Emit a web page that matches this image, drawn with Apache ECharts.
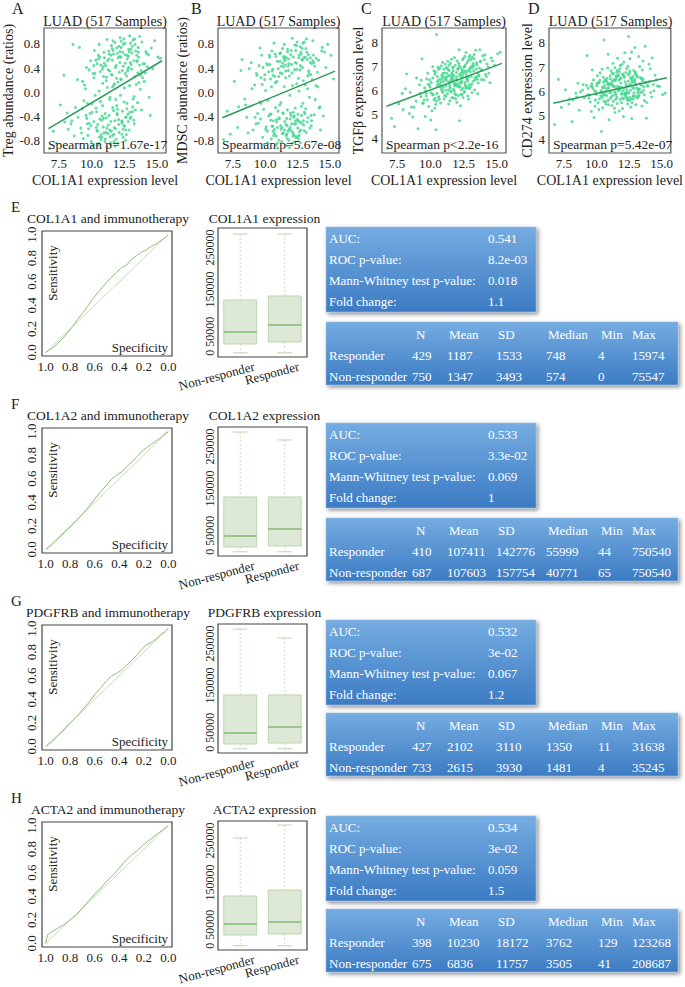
<!DOCTYPE html>
<html>
<head>
<meta charset="utf-8">
<script src="https://cdn.jsdelivr.net/npm/echarts@6/dist/echarts.min.js"></script>
<style>
  html, body { margin: 0; padding: 0; background: #fff; }
  #chart { width: 685px; height: 987px; }
</style>
</head>
<body>
<div id="chart"></div>
<script>
const FONT = 'Liberation Serif, Times New Roman, serif';

// --- panels A-D: the same LUAD samples, a subset ---
const col1a1 = [
  11.23, 12.84, 10.41, 13.07, 9.72, 11.93, 12.28, 10.86, 13.61, 11.47,
  12.13, 9.88, 11.02, 12.57, 13.94, 10.19, 11.74, 12.91, 10.63, 11.31,
  8.42, 12.36, 13.33, 10.94, 11.82, 9.53, 12.69, 14.22, 10.07, 11.38,
  12.04, 13.52, 10.71, 9.18, 11.63, 12.47, 13.01, 10.34, 11.12, 14.58,
  7.08, 12.21, 10.52, 11.87, 13.24, 9.81, 12.77, 11.29, 10.03, 13.68,
  11.54, 12.63, 8.93, 10.78, 12.09, 13.42, 10.97, 9.64, 12.88, 14.03,
  10.38, 11.69, 13.14, 12.32, 9.07, 11.18, 10.59, 12.73, 13.79, 15.08,
  6.79, 11.78, 12.43, 10.22, 12.98, 11.41, 9.37, 11.99, 14.41, 10.89,
  11.58, 12.52, 8.13, 13.27, 10.68, 11.09, 12.17, 9.92, 13.57, 11.91,
  10.12, 12.79, 11.34, 7.62, 13.48, 12.61, 10.47, 11.76, 14.83, 12.07,
  9.29, 10.99, 13.18, 12.39, 10.83, 8.68, 11.51, 12.94, 13.86, 10.28,
  12.27, 11.62, 9.77, 13.03, 10.58, 12.02, 14.12, 11.21, 7.88, 12.71,
  10.92, 13.38, 11.81, 8.97, 12.19, 10.43, 15.27, 11.42, 12.53, 13.73,
  8.58, 11.13, 12.82, 9.98, 13.09, 11.72, 9.61, 12.42, 14.49, 10.73,
  11.88, 12.59, 7.31, 13.31, 10.18, 11.49, 12.11, 9.42, 13.83, 11.04,
  12.92, 10.49, 11.27, 8.21, 13.63, 12.34, 10.81, 11.59, 14.27, 9.68,
  11.36, 12.48, 10.27, 13.22, 11.64, 12.97, 10.73, 11.85, 12.18, 9.84,
  12.71, 11.08, 13.45, 10.54, 11.97, 12.26, 9.47, 12.88, 11.33, 13.76,
  10.91, 12.55, 11.71, 8.77, 12.36, 13.13, 10.62, 11.45, 14.07, 12.03,
  11.17, 12.64, 10.33, 13.58, 11.92, 9.23, 12.42, 11.56, 10.84, 13.29,
  12.81, 11.42, 9.96, 12.15, 13.67, 10.45, 11.79, 12.49, 14.36, 11.06,
  10.17, 12.33, 11.61, 13.02, 9.58, 12.74, 11.25, 10.66, 12.96, 13.49,
  11.73, 12.24, 8.49, 10.95, 13.36, 11.52, 12.58, 10.36, 11.95, 14.68,
  12.67, 11.14, 13.17, 9.69, 12.08, 10.77, 11.66, 12.86, 13.91, 10.53,
  11.39, 12.44, 10.04, 13.26, 11.83, 9.32, 12.31, 11.19, 14.16, 12.76,
  10.61, 11.98, 12.62, 13.54, 10.88, 11.48, 7.95, 12.23, 13.11, 11.68
];
const tregRatio = [
  0.52, 0.71, -0.63, 0.38, -0.71, -0.22, 0.84, 0.15, 0.58, -0.48,
  0.33, -0.35, -0.81, 0.62, 0.47, 0.24, -0.58, 0.11, -0.44, 0.68,
  -0.52, -0.31, 0.79, -0.67, 0.41, 0.06, 0.27, 0.64, -0.88, -0.12,
  0.57, -0.17, 0.45, -0.59, -0.71, 0.88, -0.41, -0.26, 0.19, 0.73,
  -0.64, -0.05, 0.61, -0.77, 0.52, 0.37, -0.36, -0.54, -0.19, 0.92,
  0.29, -0.62, 0.21, -0.74, 0.76, 0.13, 0.48, -0.43, 0.67, 0.18,
  -0.32, 0.63, -0.24, -0.69, 0.74, -0.91, 0.02, 0.55, 0.36, 0.58,
  -0.93, -0.47, 0.43, 0.69, 0.81, 0.35, -0.76, -0.28, -0.08, -0.57,
  0.72, 0.07, -0.34, -0.52, -0.15, -0.66, 0.49, 0.52, 0.74, 0.23,
  0.31, 0.39, -0.38, -0.21, 0.51, -0.79, -0.53, 0.14, 0.85, -0.45,
  -0.27, 0.57, -0.11, 0.66, 0.38, -0.72, -0.64, -0.33, 0.83, -0.05,
  0.21, -0.25, -0.60, 0.46, 0.79, -0.84, 0.32, 0.08, 0.28, -0.18,
  0.26, 0.68, -0.89, -0.41, 0.90, 0.47, 0.56, -0.73, -0.56, 0.05,
  0.79, -0.42, 0.59, -0.81, 0.65, 0.12, 0.41, -0.61, -0.38, -0.70,
  0.44, 0.31, -0.84, 0.26, -0.48, 0.61, -0.66, -0.14, -0.29, -0.35,
  0.93, -0.87, 0.37, -0.61, 0.16, -0.47, -0.39, 0.53, 0.42, -0.52,
  0.63, -0.55, 0.31, -0.46, 0.85, 0.49, -0.78, -0.12, 0.67, -0.51,
  -0.27, 0.44, 0.61, -0.84, -0.37, 0.74, 0.12, -0.62, 0.55, 0.28,
  -0.43, 0.81, -0.69, -0.25, 0.36, -0.32, 0.58, -0.86, 0.47, 0.17,
  -0.59, -0.41, 0.53, 0.66, 0.73, -0.67, -0.74, 0.29, -0.22, 0.88,
  -0.48, -0.08, -0.55, 0.59, 0.45, -0.64, 0.82, -0.16, 0.62, -0.77,
  0.44, -0.51, 0.09, 0.71, -0.38, 0.61, -0.68, 0.34, -0.43, 0.52,
  -0.81, 0.58, -0.47, 0.66, -0.29, 0.77, 0.48, -0.58, -0.35, 0.39,
  -0.70, 0.25, 0.86, -0.18, -0.53, -0.46, 0.69, 0.41, 0.24, 0.55,
  -0.62, 0.79, -0.33, -0.07, -0.60, 0.18, -0.48, 0.87, 0.67, 0.35,
  -0.74, 0.64, -0.41, 0.32, 0.42, -0.83, -0.49, 0.22, 0.76, -0.30
];
const mdscRatio = [
  -0.61, 0.54, 0.22, -0.35, 0.61, -0.44, 0.78, -0.72, 0.47, 0.09,
  -0.66, -0.28, 0.39, 0.23, 0.56, -0.83, 0.71, -0.18, -0.47, 0.31,
  -0.11, -0.52, 0.62, 0.51, -0.79, 0.44, 0.37, -0.24, -0.57, -0.34,
  0.46, 0.29, -0.61, 0.12, -0.88, 0.83, -0.63, 0.58, -0.21, 0.66,
  -0.31, -0.41, 0.68, 0.27, -0.49, -0.74, 0.63, -0.58, 0.03, 0.85,
  0.52, -0.71, 0.49, 0.16, 0.89, -0.08, -0.92, -0.44, 0.41, 0.33,
  -0.36, -0.55, 0.72, -0.26, -0.62, 0.65, 0.38, -0.83, -0.37, 0.61,
  -0.78, 0.43, 0.14, -0.13, 0.57, -0.67, 0.28, -0.38, 0.74, -0.49,
  0.24, -0.59, 0.36, 0.06, 0.81, -0.42, 0.58, -0.86, -0.55, -0.05,
  0.47, -0.23, 0.72, 0.18, 0.49, 0.02, -0.77, -0.64, 0.79, 0.32,
  -0.52, -0.31, 0.88, -0.75, 0.59, -0.67, -0.48, 0.19, -0.12, 0.34,
  0.37, -0.71, 0.13, -0.33, -0.56, 0.69, 0.53, -0.17, -0.58, 0.44,
  -0.84, 0.31, 0.55, 0.06, -0.69, -0.46, 0.22, 0.42, -0.36, 0.61,
  -0.41, 0.64, -0.51, 0.29, 0.12, -0.29, 0.73, 0.48, -0.39, -0.68,
  -0.91, 0.57, -0.69, -0.42, 0.45, -0.62, 0.11, -0.35, 0.43, 0.26,
  0.81, 0.09, -0.81, 0.54, 0.21, -0.47, -0.25, 0.35, -0.62, -0.18,
  0.48, -0.73, -0.39, 0.66, 0.57, -0.54, 0.26, -0.61, -0.33, 0.41,
  0.75, -0.44, -0.59, 0.35, 0.62, -0.82, -0.51, 0.53, -0.68, 0.49,
  0.18, -0.47, -0.76, 0.39, 0.69, -0.27, -0.64, 0.55, 0.09, -0.52,
  0.32, -0.65, 0.61, -0.47, -0.58, -0.41, 0.77, 0.45, -0.87, 0.27,
  -0.38, 0.59, 0.21, -0.72, 0.52, -0.36, 0.36, -0.45, 0.68, -0.79,
  -0.64, 0.49, -0.53, 0.83, -0.16, -0.62, 0.43, -0.71, -0.47, 0.57,
  0.67, -0.39, -0.21, -0.58, 0.35, 0.58, -0.77, 0.46, -0.34, 0.41,
  -0.49, 0.51, -0.66, 0.24, -0.84, 0.63, -0.43, 0.72, 0.11, -0.56,
  -0.35, 0.38, -0.61, 0.54, 0.47, 0.31, -0.72, -0.55, -0.26, 0.66,
  0.28, -0.63, 0.61, -0.38, -0.45, 0.79, -0.24, -0.52, 0.58, -0.69
];
const tgfbLevel = [
  6.71, 6.12, 5.42, 7.28, 6.48, 5.83, 6.94, 6.63, 6.31, 5.58,
  7.12, 5.34, 6.88, 5.96, 7.43, 6.52, 6.06, 6.84, 5.71, 7.21,
  5.05, 6.38, 6.02, 5.92, 7.36, 5.61, 7.57, 6.58, 6.33, 5.44,
  6.18, 7.05, 6.92, 6.24, 6.57, 5.71, 6.77, 5.27, 6.01, 7.34,
  4.85, 6.66, 6.21, 7.04, 6.39, 6.71, 7.15, 5.87, 4.78, 6.93,
  6.47, 6.81, 5.56, 5.48, 6.26, 7.66, 6.13, 5.98, 5.64, 6.44,
  6.76, 6.95, 5.92, 6.31, 4.42, 5.76, 6.41, 6.53, 7.21, 7.52,
  3.62, 6.62, 7.27, 5.83, 7.44, 6.83, 7.31, 5.51, 6.71, 6.48,
  5.95, 6.72, 6.07, 7.03, 5.63, 6.54, 7.68, 6.23, 5.87, 6.29,
  5.16, 6.47, 6.61, 5.45, 6.56, 7.41, 8.31, 5.69, 7.04, 6.87,
  5.74, 6.37, 6.95, 5.84, 7.02, 4.91, 7.13, 6.24, 6.45, 6.81,
  5.37, 6.73, 5.62, 6.16, 6.97, 7.22, 7.47, 6.42, 5.88, 6.09,
  7.16, 6.44, 5.98, 6.52, 4.75, 4.38, 7.58, 6.27, 6.97, 7.68,
  5.32, 7.08, 5.77, 6.14, 6.58, 6.48, 4.93, 6.78, 6.32, 6.27,
  6.21, 6.33, 4.51, 7.31, 6.98, 6.09, 5.79, 5.47, 6.86, 5.65,
  7.36, 5.88, 6.94, 6.68, 6.62, 6.03, 6.35, 7.29, 7.09, 5.89,
  6.85, 6.09, 5.62, 7.11, 6.58, 6.91, 6.47, 5.86, 7.02, 6.26,
  6.67, 5.79, 6.89, 6.35, 6.74, 6.16, 5.48, 7.24, 6.02, 7.19,
  6.58, 5.93, 6.96, 5.31, 6.51, 6.28, 5.74, 6.63, 7.27, 6.41,
  6.19, 7.05, 6.67, 6.73, 5.66, 5.87, 6.86, 6.37, 6.04, 7.48,
  6.38, 7.04, 6.44, 6.14, 6.61, 5.56, 6.29, 7.33, 6.97, 6.72,
  5.83, 6.72, 5.71, 6.94, 6.11, 6.47, 6.55, 6.26, 6.07, 7.14,
  6.82, 6.33, 5.92, 6.71, 6.52, 5.97, 6.99, 5.68, 6.46, 7.22,
  6.18, 6.47, 7.37, 5.77, 6.92, 6.14, 6.69, 6.56, 6.83, 6.58,
  6.36, 6.62, 5.91, 6.81, 6.21, 6.42, 5.84, 6.93, 6.67, 6.78,
  6.88, 6.57, 6.24, 6.46, 5.97, 6.17, 5.21, 6.61, 7.01, 6.43
];
const cd274Level = [
  6.42, 5.81, 5.73, 6.67, 6.11, 5.52, 6.28, 6.96, 6.04, 5.67,
  6.58, 5.38, 5.94, 7.35, 6.21, 6.37, 5.18, 6.49, 5.86, 6.73,
  5.92, 5.63, 6.31, 6.14, 7.07, 5.55, 7.62, 5.76, 6.64, 5.29,
  6.01, 6.88, 5.47, 3.62, 6.21, 8.27, 5.44, 5.97, 6.85, 6.47,
  6.49, 5.79, 6.58, 6.34, 7.44, 4.91, 6.16, 5.58, 6.23, 5.61,
  6.12, 5.34, 6.05, 5.82, 7.21, 6.53, 4.82, 6.31, 5.93, 7.12,
  4.33, 6.67, 5.72, 6.94, 5.73, 5.41, 8.12, 5.52, 6.37, 5.86,
  4.62, 6.05, 6.41, 5.68, 6.79, 6.97, 6.12, 5.28, 6.02, 7.53,
  5.74, 6.22, 4.74, 5.82, 6.46, 5.97, 7.59, 5.64, 7.25, 5.89,
  5.52, 6.61, 6.18, 6.06, 5.39, 6.04, 5.31, 6.81, 6.19, 4.95,
  7.48, 6.29, 6.02, 5.47, 6.11, 5.21, 6.59, 7.81, 5.53, 6.76,
  5.95, 7.37, 6.47, 6.26, 5.58, 6.71, 6.93, 6.23, 5.47, 4.87,
  5.44, 5.96, 5.66, 6.28, 6.39, 6.92, 5.92, 5.12, 6.74, 7.86,
  6.33, 5.76, 5.68, 5.87, 6.13, 6.46, 5.16, 7.03, 6.66, 5.99,
  6.56, 6.29, 5.33, 7.02, 5.24, 5.83, 6.11, 5.71, 4.88, 6.63,
  6.42, 5.92, 7.16, 5.64, 6.19, 5.71, 6.54, 5.49, 7.38, 6.88,
  6.21, 5.94, 6.45, 5.78, 6.63, 6.32, 5.57, 6.17, 5.86, 6.02,
  6.54, 5.71, 6.25, 6.38, 5.89, 6.77, 5.84, 6.11, 6.48, 6.36,
  5.63, 6.84, 6.07, 5.97, 5.74, 6.59, 6.23, 5.92, 6.41, 6.68,
  6.28, 5.66, 5.81, 6.52, 6.14, 6.25, 5.93, 6.79, 6.36, 6.08,
  5.77, 6.44, 5.98, 6.61, 5.85, 6.16, 6.93, 5.62, 6.27, 6.51,
  6.34, 6.06, 6.87, 5.79, 6.21, 6.38, 5.83, 6.45, 6.72, 5.96,
  6.15, 5.88, 5.76, 6.29, 6.57, 6.64, 5.74, 6.03, 7.11, 6.22,
  6.49, 6.33, 5.92, 6.18, 5.69, 6.41, 6.02, 6.86, 6.24, 5.81,
  5.98, 6.67, 6.32, 6.09, 6.51, 5.85, 6.18, 6.74, 5.95, 6.39,
  6.13, 5.72, 6.56, 6.43, 6.27, 6.48, 5.68, 5.91, 6.62, 6.05
];
// fitted lines, end points
const fitTreg = [[6.7, -0.6], [15.4, 0.52]];
const fitMdsc = [[6.7, -0.42], [15.4, 0.35]];
const fitTgfb = [[6.7, 5.35], [15.4, 7.12]];
const fitCd274 = [[6.7, 5.5], [15.4, 6.56]];
const spearmanText = ['Spearman p=1.67e-17', 'Spearman p=5.67e-08', 'Spearman p<2.2e-16', 'Spearman p=5.42e-07'];

// --- panels E-H: ROC curves [specificity, sensitivity] ---
const rocDiagonal = [[1, 0], [0, 1]];
const rocCol1a1 = [[1, 0], [0.97, 0.02], [0.93, 0.05], [0.9, 0.08], [0.86, 0.12], [0.82, 0.17], [0.78, 0.22],
  [0.74, 0.28], [0.7, 0.33], [0.66, 0.39], [0.62, 0.45], [0.58, 0.5], [0.54, 0.55], [0.5, 0.6], [0.46, 0.64],
  [0.42, 0.68], [0.38, 0.72], [0.34, 0.74], [0.3, 0.79], [0.26, 0.82], [0.22, 0.85], [0.18, 0.87], [0.14, 0.9],
  [0.1, 0.92], [0.06, 0.95], [0.03, 0.97], [0, 1]];
const rocCol1a2 = [[1, 0], [0.95, 0.04], [0.9, 0.09], [0.85, 0.14], [0.8, 0.19], [0.75, 0.24], [0.7, 0.3],
  [0.65, 0.36], [0.6, 0.43], [0.55, 0.49], [0.5, 0.55], [0.46, 0.6], [0.42, 0.63], [0.38, 0.66], [0.34, 0.7],
  [0.3, 0.74], [0.26, 0.78], [0.22, 0.83], [0.18, 0.86], [0.14, 0.89], [0.1, 0.92], [0.06, 0.95], [0.03, 0.98], [0, 1]];
const rocPdgfrb = [[1, 0], [0.95, 0.04], [0.9, 0.09], [0.85, 0.14], [0.8, 0.2], [0.75, 0.25], [0.7, 0.31],
  [0.65, 0.37], [0.6, 0.44], [0.55, 0.5], [0.5, 0.56], [0.46, 0.6], [0.42, 0.62], [0.38, 0.65], [0.34, 0.69],
  [0.3, 0.73], [0.26, 0.77], [0.22, 0.82], [0.18, 0.86], [0.14, 0.88], [0.1, 0.91], [0.06, 0.95], [0.03, 0.97], [0, 1]];
const rocActa2 = [[1, 0], [0.99, 0.05], [0.98, 0.08], [0.95, 0.1], [0.9, 0.13], [0.85, 0.16], [0.8, 0.2],
  [0.75, 0.24], [0.7, 0.3], [0.65, 0.36], [0.6, 0.42], [0.55, 0.47], [0.5, 0.53], [0.45, 0.58], [0.4, 0.64],
  [0.35, 0.7], [0.3, 0.75], [0.25, 0.79], [0.2, 0.84], [0.15, 0.88], [0.1, 0.92], [0.05, 0.96], [0, 1]];

// --- box plots: [lower whisker, Q1, median, Q3, upper whisker] ---
const groups = ['Non-responder', 'Responder'];
const boxCol1a1 = [[0, 20900, 49300, 125200, 281800], [0, 25600, 65900, 134700, 281800]];
const boxCol1a2 = [[0, 11400, 37500, 130000, 284100], [0, 13700, 54100, 130000, 265200]];
const boxPdgfrb = [[0, 11400, 37500, 127600, 284100], [0, 13700, 51700, 127600, 262800]];
const boxActa2 = [[0, 25600, 51700, 118100, 255700], [0, 28000, 56400, 132300, 286500]];
const boxTicks = [0, 50000, 150000, 250000];

// --- stats tables ---
const genes = ['COL1A1', 'COL1A2', 'PDGFRB', 'ACTA2'];
const statLabels = ['AUC:', 'ROC p-value:', 'Mann-Whitney test p-value:', 'Fold change:'];
const statValues = [
  ['0.541', '8.2e-03', '0.018', '1.1'],
  ['0.533', '3.3e-02', '0.069', '1'],
  ['0.532', '3e-02', '0.067', '1.2'],
  ['0.534', '3e-02', '0.059', '1.5']
];
const tableHeader = ['N', 'Mean', 'SD', 'Median', 'Min', 'Max'];
const responderRows = [
  [429, 1187, 1533, 748, 4, 15974],
  [410, 107411, 142776, 55999, 44, 750540],
  [427, 2102, 3110, 1350, 11, 31638],
  [398, 10230, 18172, 3762, 129, 123268]
];
const nonResponderRows = [
  [750, 1347, 3493, 574, 0, 75547],
  [687, 107603, 157754, 40771, 65, 750540],
  [733, 2615, 3930, 1481, 4, 35245],
  [675, 6836, 11757, 3505, 41, 208687]
];

const chart = echarts.init(document.getElementById('chart'), null, { renderer: 'svg' });

const scatterPanels = [
  { letter: 'A', lx: 12, left: 44, width: 122, y: tregRatio, fit: fitTreg, yName: 'Treg abundance (ratios)', gap: 29, min: -1.0, max: 1.06, ticks: [-0.8, -0.4, 0, 0.4, 0.8], dec: 1 },
  { letter: 'B', lx: 191, left: 218, width: 121, y: mdscRatio, fit: fitMdsc, yName: 'MDSC abundance (ratios)', gap: 28, min: -1.0, max: 1.06, ticks: [-0.8, -0.4, 0, 0.4, 0.8], dec: 1 },
  { letter: 'C', lx: 361, left: 382, width: 124, y: tgfbLevel, fit: fitTgfb, yName: 'TGFβ expression level', gap: 17, min: 3.42, max: 8.58, ticks: [4, 5, 6, 7, 8], dec: 0 },
  { letter: 'D', lx: 528, left: 549, width: 123, y: cd274Level, fit: fitCd274, yName: 'CD274 expression level', gap: 14, min: 3.44, max: 8.62, ticks: [4, 5, 6, 7, 8], dec: 0 }
];
const rocCurves = [rocCol1a1, rocCol1a2, rocPdgfrb, rocActa2];
const boxData = [boxCol1a1, boxCol1a2, boxPdgfrb, boxActa2];
const rowLetters = ['E', 'F', 'G', 'H'];
const rocTops = [231, 428, 625, 822];
const boxTops = [228, 427, 624, 821];
const statTops = [227, 423, 620, 816];
const tableTops = [322, 518, 713, 909];

const SC_TOP = 28, SC_H = 125;
const ROC_LEFT = 42, ROC_W = 130, ROC_H = 125;
const BOX_LEFT = 218, BOX_W = 89, BOX_H = 129;
const textColor = '#222';

const grids = [], xAxes = [], yAxes = [], series = [], graphics = [];

function label(x, y, text, size, extra) {
  return {
    type: 'text', x: x, y: y, z: 50,
    style: Object.assign({ text: text, fontSize: size, fontFamily: FONT, fill: textColor, align: 'left', verticalAlign: 'middle' }, extra)
  };
}
function plainAxis(idx) {
  return { gridIndex: idx, axisLine: { show: false }, axisTick: { show: false }, splitLine: { show: false } };
}

// scatter panels
scatterPanels.forEach(function (p, i) {
  grids.push({ left: p.left, top: SC_TOP, width: p.width, height: SC_H, show: true, borderColor: '#555', borderWidth: 1.2 });
  xAxes.push(Object.assign(plainAxis(i), {
    type: 'value', min: 6.36, max: 15.7,
    axisLabel: { customValues: [7.5, 10, 12.5, 15], formatter: v => v.toFixed(1), color: textColor, fontSize: 13, fontFamily: FONT, margin: 4 },
    name: 'COL1A1 expression level', nameLocation: 'middle', nameGap: 20,
    nameTextStyle: { color: textColor, fontSize: 14, fontFamily: FONT }
  }));
  yAxes.push(Object.assign(plainAxis(i), {
    type: 'value', min: p.min, max: p.max,
    axisLabel: { customValues: p.ticks, formatter: v => v.toFixed(p.dec), color: textColor, fontSize: 13, fontFamily: FONT, margin: 4 },
    name: p.yName, nameLocation: 'middle', nameGap: p.gap,
    nameTextStyle: { color: textColor, fontSize: 14, fontFamily: FONT }
  }));
  series.push({
    type: 'scatter', xAxisIndex: i, yAxisIndex: i, symbolSize: 3,
    itemStyle: { color: '#3dd68c' },
    data: col1a1.map((x, k) => [x, p.y[k]])
  });
  series.push({
    type: 'line', xAxisIndex: i, yAxisIndex: i, symbol: 'none', z: 5,
    lineStyle: { color: '#2a9d58', width: 1.5 },
    data: p.fit
  });
  graphics.push(label(p.left + p.width / 2, 21, 'LUAD (517 Samples)', 14, { align: 'center' }));
  graphics.push(label(p.left + 4, SC_TOP + 116, spearmanText[i], 13.5));
  graphics.push(label(p.lx, 8, p.letter, 16));
});

// ROC + box plot rows
function drawBox(params, api) {
  const cat = api.value(0);
  const lo = api.coord([cat, api.value(1)]);
  const q1 = api.coord([cat, api.value(2)]);
  const med = api.coord([cat, api.value(3)]);
  const q3 = api.coord([cat, api.value(4)]);
  const hi = api.coord([cat, api.value(5)]);
  const band = api.size([1, 0])[0];
  const bw = band * 0.74, cw = bw * 0.45, cx = med[0];
  const edge = '#bcd6ae';
  return {
    type: 'group',
    children: [
      { type: 'line', shape: { x1: cx, y1: hi[1], x2: cx, y2: q3[1] }, style: { stroke: edge, lineWidth: 0.8, lineDash: [2, 2] } },
      { type: 'line', shape: { x1: cx, y1: q1[1], x2: cx, y2: lo[1] }, style: { stroke: edge, lineWidth: 0.8, lineDash: [2, 2] } },
      { type: 'line', shape: { x1: cx - cw / 2, y1: hi[1], x2: cx + cw / 2, y2: hi[1] }, style: { stroke: edge, lineWidth: 1 } },
      { type: 'line', shape: { x1: cx - cw / 2, y1: lo[1], x2: cx + cw / 2, y2: lo[1] }, style: { stroke: edge, lineWidth: 1 } },
      { type: 'rect', shape: { x: cx - bw / 2, y: q3[1], width: bw, height: q1[1] - q3[1] }, style: { fill: '#dde9d6', stroke: edge, lineWidth: 1 } },
      { type: 'line', shape: { x1: cx - bw / 2, y1: med[1], x2: cx + bw / 2, y2: med[1] }, style: { stroke: '#86b874', lineWidth: 1.3 } }
    ]
  };
}

const blueFill = () => new echarts.graphic.LinearGradient(0, 0, 0, 1, [
  { offset: 0, color: '#75ace1' }, { offset: 1, color: '#3c7bc3' }
]);
const boxShadow = { shadowBlur: 4, shadowOffsetX: 2, shadowOffsetY: 2, shadowColor: 'rgba(0,0,0,0.45)' };
const headerX = [416, 449, 498, 548, 601, 632];
const cellX = [412, 447, 496, 546, 598, 632];
const white = { fill: '#fff' };

rowLetters.forEach(function (letter, r) {
  const gRoc = 4 + r * 2, gBox = 5 + r * 2;
  const rt = rocTops[r], bt = boxTops[r];

  grids.push({ left: ROC_LEFT, top: rt, width: ROC_W, height: ROC_H, show: true, borderColor: '#444', borderWidth: 1.2 });
  grids.push({ left: BOX_LEFT, top: bt, width: BOX_W, height: BOX_H, show: true, borderColor: '#444', borderWidth: 1.2 });

  xAxes.push(Object.assign(plainAxis(gRoc), {
    type: 'value', min: -0.03, max: 1.03, inverse: true,
    axisLabel: { customValues: [0, 0.2, 0.4, 0.6, 0.8, 1], formatter: v => v.toFixed(1), color: textColor, fontSize: 13, fontFamily: FONT, margin: 4 }
  }));
  yAxes.push(Object.assign(plainAxis(gRoc), {
    type: 'value', min: -0.03, max: 1.03,
    axisLabel: { customValues: [0, 0.2, 0.4, 0.6, 0.8, 1], formatter: v => v.toFixed(1), rotate: 90, color: textColor, fontSize: 13, fontFamily: FONT, margin: 4 }
  }));
  // group names and value labels are drawn after layout, at the axis positions
  xAxes.push(Object.assign(plainAxis(gBox), {
    type: 'category', data: groups, axisLabel: { show: false }
  }));
  yAxes.push(Object.assign(plainAxis(gBox), {
    type: 'value', min: -10000, max: 296000, axisLabel: { show: false }
  }));

  series.push({
    type: 'line', xAxisIndex: gRoc, yAxisIndex: gRoc, symbol: 'none',
    lineStyle: { color: '#c6ddb9', width: 1 }, data: rocDiagonal
  });
  series.push({
    type: 'line', xAxisIndex: gRoc, yAxisIndex: gRoc, symbol: 'none',
    lineStyle: { color: '#8cbf76', width: 1 }, data: rocCurves[r]
  });
  series.push({
    type: 'custom', xAxisIndex: gBox, yAxisIndex: gBox, renderItem: drawBox,
    encode: { x: 0, y: [1, 2, 3, 4, 5] },
    data: boxData[r].map((b, k) => [k].concat(b))
  });

  graphics.push(label(11, rt - 24, letter, 15));
  graphics.push(label(ROC_LEFT + ROC_W / 2 + 1, rt - 13, genes[r] + ' and immunotherapy', 13.5, { align: 'center' }));
  graphics.push(label(BOX_LEFT + BOX_W / 2 + 2, rt - 13, genes[r] + ' expression', 13.5, { align: 'center' }));
  const sens = label(ROC_LEFT + 10, rt + 42, 'Sensitivity', 13, { align: 'center' });
  sens.rotation = Math.PI / 2;
  graphics.push(sens);
  graphics.push(label(ROC_LEFT + ROC_W - 4, rt + 116, 'Specificity', 13, { align: 'right' }));

  // stats box
  const st = statTops[r];
  graphics.push({ type: 'rect', z: 40, shape: { x: 326, y: st, width: 210, height: 85 },
    style: Object.assign({ fill: blueFill(), stroke: '#9cbfe6', lineWidth: 0.6 }, boxShadow) });
  statLabels.forEach(function (s, k) {
    graphics.push(label(329, st + 11 + k * 21, s, 13, white));
    graphics.push(label(488, st + 11 + k * 21, statValues[r][k], 13, white));
  });

  // summary table
  const tt = tableTops[r];
  graphics.push({ type: 'rect', z: 40, shape: { x: 326, y: tt, width: 352, height: 63 },
    style: Object.assign({ fill: blueFill(), stroke: '#9cbfe6', lineWidth: 0.6 }, boxShadow) });
  tableHeader.forEach(function (h, k) {
    graphics.push(label(headerX[k], tt + 12, h, 13, white));
  });
  [['Responder', responderRows[r]], ['Non-responder', nonResponderRows[r]]].forEach(function (row, j) {
    const y = tt + 33 + j * 21;
    graphics.push(label(329, y, row[0], 13, white));
    row[1].forEach(function (v, k) {
      graphics.push(label(cellX[k], y, String(v), 13, white));
    });
  });
});

chart.setOption({
  animation: false,
  backgroundColor: '#fff',
  grid: grids,
  xAxis: xAxes,
  yAxis: yAxes,
  series: series,
  graphic: { elements: graphics }
});

// box plot axis texts, placed through the axes' own scales
rowLetters.forEach(function (letter, r) {
  const gBox = 5 + r * 2;
  groups.forEach(function (g, k) {
    const px = chart.convertToPixel({ xAxisIndex: gBox }, k);
    const t = label(px + 14, boxTops[r] + BOX_H + 9, g, 13, { align: 'right' });
    t.rotation = 15 * Math.PI / 180;
    graphics.push(t);
  });
  boxTicks.forEach(function (v) {
    const py = chart.convertToPixel({ yAxisIndex: gBox }, v);
    const t = label(BOX_LEFT - 8, py, String(v), 12, { align: 'center' });
    t.rotation = Math.PI / 2;
    graphics.push(t);
  });
});
chart.setOption({ graphic: { elements: graphics } });
</script>
</body>
</html>
